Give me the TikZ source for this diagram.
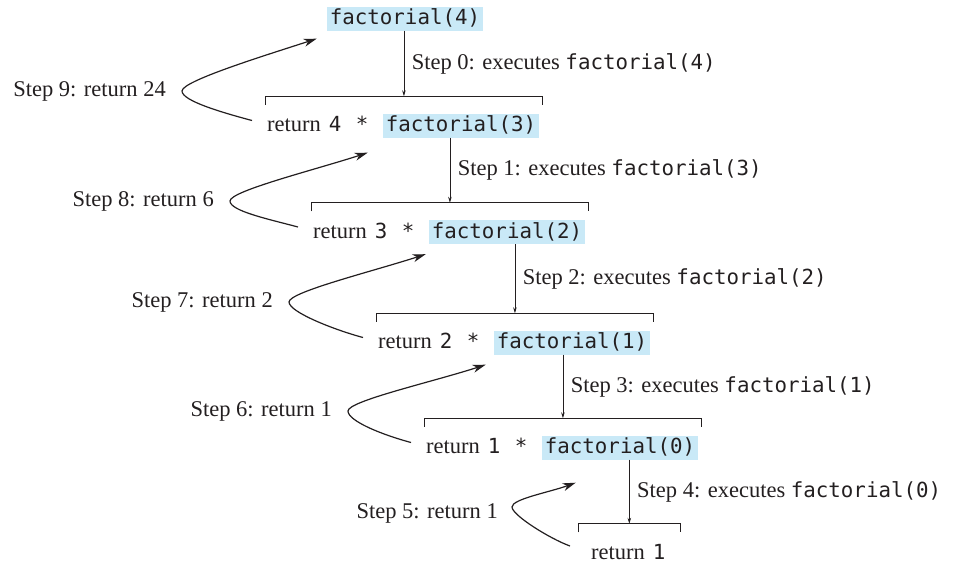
\documentclass[tikz,border=0pt]{standalone}
\usepackage{fontspec}
\setmainfont{Liberation Serif}
\newfontfamily\codefont{DejaVu Sans Mono}
\usetikzlibrary{positioning,arrows.meta,calc}
\definecolor{inkline}{HTML}{231F20}
\definecolor{codebg}{HTML}{C9E9F7}
\newcommand{\code}[1]{{\codefont\fontsize{20.8pt}{24pt}\selectfont #1}}
\tikzset{
  rc/.style={font=\fontsize{22.5pt}{26pt}\selectfont, text=inkline, text height=15.5pt, text depth=3.5pt, inner ysep=2.5pt},
  rc call/.style={rc, fill=codebg, inner xsep=3pt},
  rc ret/.style={rc, inner xsep=0pt, anchor=west},
  rc lbl/.style={font=\fontsize{22.5pt}{26pt}\selectfont, text=inkline, inner sep=0pt},
  rc brk/.style={line width=0.9pt, inkline},
  rc down/.style={-{Stealth[length=6pt,width=3.5pt]}, line width=0.7pt, inkline},
  rc back/.style={-{Stealth[length=13pt,width=8pt,inset=4pt]}, line width=1.2pt, inkline},
}
\begin{document}
\begin{tikzpicture}[x=1pt, y=1pt]
  \useasboundingbox (0,0) rectangle (958,-563);
  % calls, one row per level
  \node[rc call] (f4) at (405,-18.5) {\code{factorial(4)}};
  \node[rc ret] (r1) at (267,-125.5) {return\hspace{8pt}\code{4}\hspace{14.5pt}\code{*}};
  \node[rc call, right=14pt of r1] (f3) {\code{factorial(3)}};
  \node[rc ret] (r2) at (313,-232) {return\hspace{8pt}\code{3}\hspace{14.5pt}\code{*}};
  \node[rc call, right=14pt of r2] (f2) {\code{factorial(2)}};
  \node[rc ret] (r3) at (378,-342.5) {return\hspace{8pt}\code{2}\hspace{14.5pt}\code{*}};
  \node[rc call, right=14pt of r3] (f1) {\code{factorial(1)}};
  \node[rc ret] (r4) at (426,-447.5) {return\hspace{8pt}\code{1}\hspace{14.5pt}\code{*}};
  \node[rc call, right=14pt of r4] (f0) {\code{factorial(0)}};
  \node[rc ret] (r5) at (591,-553) {return\hspace{8pt}\code{1}};
  % return values
  \node[rc lbl, anchor=east] (s9) at (166,-91) {Step 9: return 24};
  \node[rc lbl, anchor=east] (s8) at (214,-201) {Step 8: return 6};
  \node[rc lbl, anchor=east] (s7) at (273,-302) {Step 7: return 2};
  \node[rc lbl, anchor=east] (s6) at (332,-411) {Step 6: return 1};
  \node[rc lbl, anchor=east] (s5) at (498,-513) {Step 5: return 1};
  % brackets over each row
  \foreach \a/\b/\c/\l/\r in {r1/f3/b1/1.5/3, r2/f2/b2/1.5/3, r3/f1/b3/1.5/3, r4/f0/b4/1.5/3, r5/r5/b5/13/15}
    \draw[rc brk] ([shift={(-\l,8.5)}]\a.north west) |- coordinate[pos=.75] (\c) ([shift={(\r,17)}]\b.north east) -- ++(0,-8.5);
  \foreach \a/\b/\n/\t in {f4/b1/0/4, f3/b2/1/3, f2/b3/2/2, f1/b4/3/1, f0/b5/4/0}
    \draw[rc down] (\a.south -| \b) -- node[rc lbl, right=7.5pt] {Step \n: executes \code{factorial(\t)}} (\b);
  \foreach \a/\s/\b/\dx/\dy in {r1/s9/f4/-10/-8, r2/s8/f3/-15/-15, r3/s7/f2/-3/-10, r4/s6/f1/-8/-10}
    \draw[rc back] ([shift={(-15,5)}]\a.west) to[out=165, in=-90, out distance=30pt, in distance=10pt] ([xshift=16pt]\s.east)
      to[out=90, in=198, out distance=10pt, in distance=55pt] ([shift={(\dx,\dy)}]\b.south west);
  \draw[rc back] ([shift={(-21,7)}]r5.west) to[out=160, in=-90, out distance=22pt, in distance=8pt] ([shift={(14,6)}]s5.east)
    to[out=90, in=200, out distance=8pt, in distance=28pt] ([shift={(34,-23)}]f0.south west);
\end{tikzpicture}
\end{document}
